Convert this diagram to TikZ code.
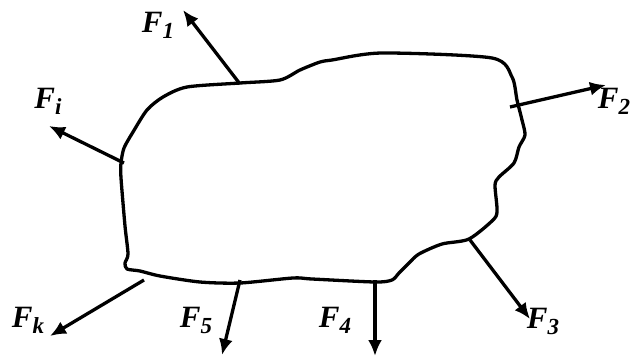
\documentclass[tikz,border=0pt]{standalone}
\usepackage{fontspec}
\setmainfont{Liberation Serif}
\usetikzlibrary{arrows.meta}
\tikzset{
  outline/.style={line width=3.3pt, line join=round, line cap=round},
  force/.style={line width=3.3pt, -{Latex[length=16pt,width=14pt]}},
  flabel/.style={font=\fontsize{31}{32}\selectfont\bfseries\itshape, inner sep=0pt}
}
\newcommand{\fsub}[1]{\raisebox{-6pt}{\fontsize{23}{24}\selectfont\bfseries\itshape #1}}
\begin{document}
\begin{tikzpicture}[x=1pt,y=-1pt]
\useasboundingbox (0,0) rectangle (632,356);
% outline of the body
\draw[outline] plot[smooth cycle, tension=0.45] coordinates {
 (121,178) (121,163) (124,148) (133,132) (147,110) (163,97) (187,87)
 (240,83) (280,80) (300,70) (320,62) (332,60) (382,53) (492,58)
 (512,77) (517,100) (522,120) (525,135) (519,147) (514,163) (499,177)
 (495,185) (497,209) (494,219) (469,239) (442,244) (419,254) (409,263)
 (399,273) (392,280) (375,282) (312,279) (293,278) (240,283) (200,282)
 (160,276) (140,271) (127,269) (125,263) (128,254) (125,226)};
% application points
\coordinate (b1) at (240,84);
\coordinate (bi) at (124,163);
\coordinate (b2) at (510,107);
\coordinate (b3) at (470,240);
\coordinate (b4) at (375,280);
\coordinate (b5) at (240,280);
\coordinate (bk) at (144,280);
% arrow tips
\coordinate (t1) at (183,10);
\coordinate (ti) at (49,126);
\coordinate (t2) at (606,85);
\coordinate (t3) at (530,319);
\coordinate (t4) at (375,356);
\coordinate (t5) at (222,355);
\coordinate (tk) at (50,336);
\draw[force] (b1) -- (t1);
\draw[force] (bi) -- (ti);
\draw[force] (b2) -- (t2);
\draw[force] (b3) -- (t3);
\draw[force] (b4) -- (t4);
\draw[force] (b5) -- (t5);
\draw[force] (bk) -- (tk);
% labels
\node[flabel] (l1) at (158,25) {F\fsub{1}};
\node[flabel] (li) at (48,101) {F\fsub{i}};
\node[flabel] (l2) at (614,101) {F\fsub{2}};
\node[flabel] (l3) at (543,321) {F\fsub{3}};
\node[flabel] (l4) at (335,320) {F\fsub{4}};
\node[flabel] (l5) at (196,320) {F\fsub{5}};
\node[flabel] (lk) at (28,320) {F\fsub{k}};
\end{tikzpicture}
\end{document}
